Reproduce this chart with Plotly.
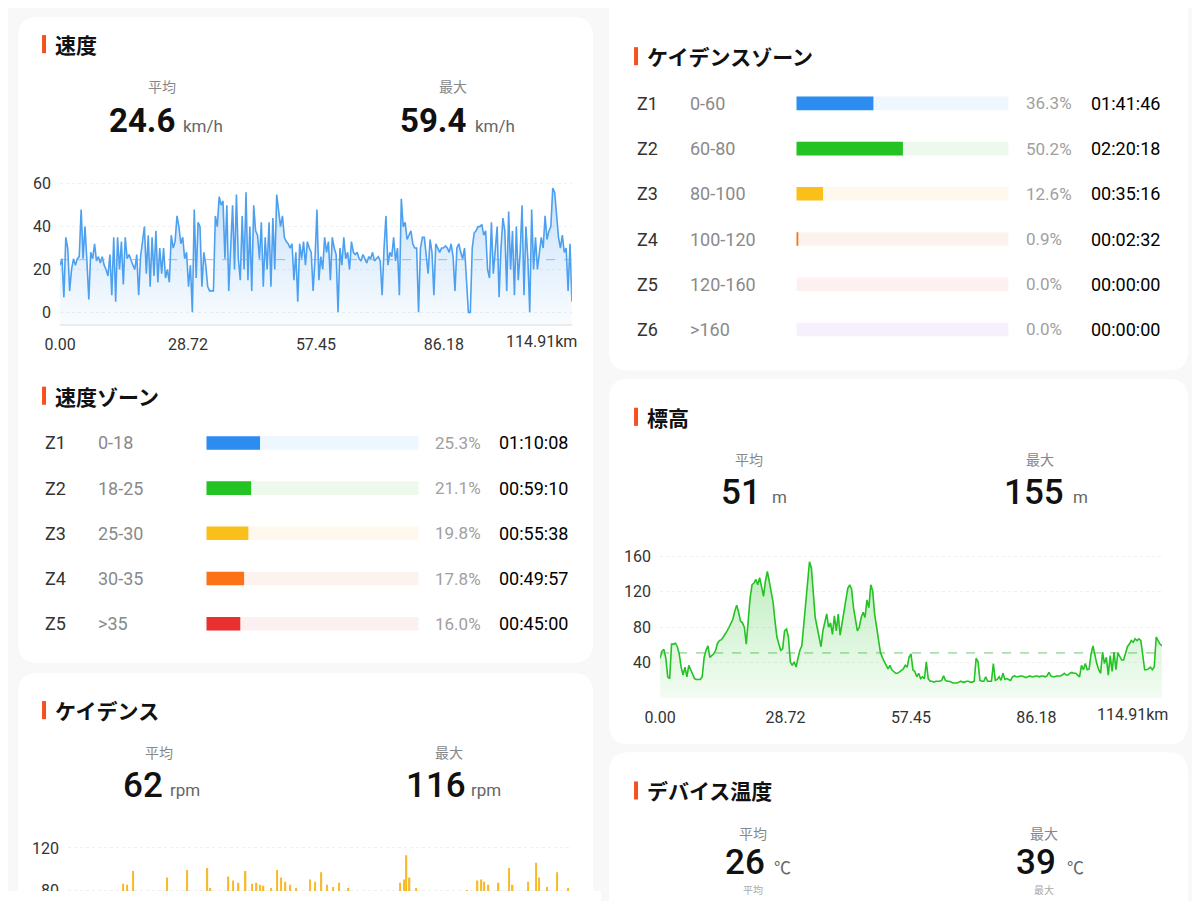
import plotly.graph_objects as go

W, H = 1200, 901

# ---- data ----
TOTAL_KM = 114.91
km_ticks = [0, 28.72, 57.45, 86.18]
km_ticktext = ["0.00", "28.72", "57.45", "86.18"]

SPEED_AVG, SPEED_MAX = 24.6, 59.4
speed_kmh = [
    22, 25, 7, 35, 30, 10, 20, 25, 22, 25,
    26, 48, 25, 40, 24, 6, 28, 25, 32, 24,
    26, 23, 26, 22, 20, 17, 27, 8, 35, 5,
    35, 20, 33, 13, 35, 25, 27, 24, 22, 20,
    27, 8, 26, 33, 40, 18, 36, 12, 35, 17,
    38, 14, 30, 18, 30, 16, 20, 14, 36, 30,
    33, 45, 40, 32, 35, 25, 28, 12, 22, 0,
    48, 16, 42, 40, 12, 28, 22, 12, 10, 10,
    10, 45, 40, 54, 50, 52, 25, 50, 10, 30,
    50, 20, 55, 25, 15, 45, 20, 56, 15, 40,
    10, 50, 38, 36, 25, 42, 12, 35, 20, 42,
    12, 44, 20, 55, 48, 40, 45, 35, 33, 32,
    30, 32, 15, 28, 5, 32, 25, 33, 22, 33,
    30, 28, 10, 25, 48, 15, 26, 20, 35, 28,
    33, 15, 35, 30, 27, 0, 30, 22, 35, 25,
    28, 20, 33, 28, 27, 28, 25, 24, 27, 25,
    23, 26, 25, 28, 24, 25, 26, 24, 8, 30,
    45, 22, 28, 26, 35, 24, 30, 8, 53, 40,
    42, 34, 36, 38, 32, 30, 30, 0, 30, 35,
    35, 25, 18, 34, 28, 8, 32, 30, 28, 30,
    30, 31, 30, 28, 32, 26, 10, 30, 32, 28,
    25, 30, 12, 0, 0, 30, 37, 38, 40, 40,
    41, 36, 38, 20, 16, 42, 18, 30, 40, 7,
    30, 44, 38, 10, 47, 20, 38, 8, 40, 15,
    28, 50, 8, 40, 25, 0, 48, 20, 35, 20,
    28, 35, 30, 45, 34, 38, 40, 58, 56, 45,
    35, 30, 36, 28, 30, 10, 32, 5,
]

speed_zone_names = ["Z1", "Z2", "Z3", "Z4", "Z5"]
speed_zone_ranges = ["0-18", "18-25", "25-30", "30-35", ">35"]
speed_zone_pct = [25.3, 21.1, 19.8, 17.8, 16.0]
speed_zone_time = ["01:10:08", "00:59:10", "00:55:38", "00:49:57", "00:45:00"]

CAD_AVG, CAD_MAX = 62, 116
cadence_km = [12.6, 13.5, 14.8, 22.6, 27.2, 31.8, 32.5, 36.6, 37.7, 38.9,
              40.5, 42.0, 43.0, 43.8, 44.6, 46.3, 47.7, 48.5, 49.6, 50.6,
              52.0, 55.2, 56.3, 57.8, 59.0, 60.5, 61.8, 64.0, 75.8, 76.6,
              77.2, 77.9, 79.3, 91.1, 93.4, 94.3, 94.9, 95.9, 98.2, 100.5,
              101.4, 104.9, 106.7, 107.4, 109.2, 111.5, 114.0]
cadence_rpm = [86, 85, 98, 92, 99, 101, 82, 93, 89, 87,
               98, 86, 87, 85, 84, 82, 99, 92, 88, 85,
               82, 90, 88, 97, 85, 83, 87, 82, 87, 90,
               113, 92, 82, 80, 89, 90, 88, 85, 87, 101,
               85, 88, 106, 92, 83, 97, 82]

cad_zone_names = ["Z1", "Z2", "Z3", "Z4", "Z5", "Z6"]
cad_zone_ranges = ["0-60", "60-80", "80-100", "100-120", "120-160", ">160"]
cad_zone_pct = [36.3, 50.2, 12.6, 0.9, 0.0, 0.0]
cad_zone_time = ["01:41:46", "02:20:18", "00:35:16", "00:02:32", "00:00:00", "00:00:00"]

ELEV_AVG, ELEV_MAX = 51, 155
elevation_m = [
    45, 53, 55, 45, 24, 22, 61, 61, 62, 58,
    50, 35, 26, 35, 24, 37, 32, 26, 22, 21,
    21, 21, 24, 46, 54, 59, 46, 48, 50, 54,
    62, 65, 66, 69, 72, 76, 80, 84, 89, 98,
    105, 97, 87, 85, 80, 61, 91, 113, 128, 130,
    134, 128, 136, 123, 115, 132, 143, 132, 119, 108,
    87, 69, 61, 54, 56, 76, 78, 69, 41, 37,
    41, 35, 45, 54, 59, 84, 106, 136, 154, 147,
    113, 91, 80, 69, 58, 76, 84, 95, 80, 85,
    72, 93, 76, 95, 71, 84, 95, 113, 124, 128,
    123, 102, 87, 76, 80, 91, 97, 91, 111, 102,
    128, 121, 95, 80, 65, 52, 46, 41, 37, 33,
    37, 32, 30, 28, 28, 30, 32, 33, 37, 35,
    46, 50, 32, 30, 24, 28, 22, 24, 22, 41,
    22, 19, 19, 18, 19, 19, 19, 20, 25, 20,
    19, 19, 18, 17, 17, 17, 18, 19, 18, 18,
    19, 19, 18, 18, 19, 45, 41, 20, 19, 19,
    24, 19, 19, 19, 39, 20, 21, 24, 20, 28,
    21, 22, 21, 20, 24, 25, 24, 24, 25, 25,
    24, 23, 24, 25, 24, 24, 25, 25, 24, 25,
    25, 24, 25, 29, 25, 24, 24, 25, 25, 25,
    26, 28, 26, 26, 28, 29, 28, 28, 26, 24,
    37, 32, 39, 32, 33, 50, 59, 48, 39, 32,
    28, 52, 39, 46, 26, 48, 30, 52, 32, 51,
    46, 43, 43, 50, 58, 61, 65, 63, 67, 65,
    67, 65, 46, 32, 32, 33, 35, 32, 35, 69,
    65, 61, 59,
]

TEMP_AVG, TEMP_MAX = 26, 39

zone_colors = ["#2d8cf0", "#22c322", "#fbbf1a", "#fb7316", "#e8312f", "#9b5de5"]
zone_tracks = ["#eef6fe", "#edf9ed", "#fff8ec", "#fdf3ee", "#fdf0f0", "#f5f0fb"]

NUM_FONT = "Roboto, 'Noto Sans CJK JP', sans-serif"
JP_FONT = "'Noto Sans CJK JP', 'Noto Sans', sans-serif"

# the page lands a little shifted/scaled in the snapshot, so map screen px -> figure px
SX, OX = 0.985, 24
SY, OY = 0.99, 14


def fx(x):
    return (x - OX) / SX / W


def fy(y):
    return 1 - (y - OY) / SY / H


speed_km = [i * TOTAL_KM / (len(speed_kmh) - 1) for i in range(len(speed_kmh))]
elev_km = [i * TOTAL_KM / (len(elevation_m) - 1) for i in range(len(elevation_m))]

fig = go.Figure()

# speed chart
SPEED_FLOOR = -5.625
fig.add_trace(go.Scatter(x=speed_km, y=[SPEED_FLOOR] * len(speed_km), mode="lines",
                         line=dict(width=0), hoverinfo="skip", xaxis="x", yaxis="y"))
fig.add_trace(go.Scatter(
    x=speed_km, y=speed_kmh, mode="lines", fill="tonexty",
    line=dict(color="#4da0f0", width=1.6),
    fillgradient=dict(type="vertical", start=SPEED_FLOOR, stop=60,
                      colorscale=[[0, "rgba(77,160,240,0.03)"], [1, "rgba(77,160,240,0.32)"]]),
    hoverinfo="skip", xaxis="x", yaxis="y"))
fig.add_trace(go.Scatter(x=[0, TOTAL_KM], y=[SPEED_AVG, SPEED_AVG], mode="lines",
                         line=dict(color="rgba(120,165,215,0.7)", width=1, dash="dash"),
                         hoverinfo="skip", xaxis="x", yaxis="y"))

# elevation chart
fig.add_trace(go.Scatter(
    x=elev_km, y=elevation_m, mode="lines", fill="tozeroy",
    line=dict(color="#22c322", width=1.6),
    fillgradient=dict(type="vertical", start=0, stop=155,
                      colorscale=[[0, "rgba(34,195,34,0.05)"], [1, "rgba(34,195,34,0.30)"]]),
    hoverinfo="skip", xaxis="x5", yaxis="y5"))
fig.add_trace(go.Scatter(x=[0, TOTAL_KM], y=[ELEV_AVG, ELEV_AVG], mode="lines",
                         line=dict(color="rgba(60,180,60,0.75)", width=1, dash="dash"),
                         hoverinfo="skip", xaxis="x5", yaxis="y5"))

# cadence chart
fig.add_trace(go.Bar(x=cadence_km, y=cadence_rpm, width=0.3, marker=dict(color="#f7b928", line=dict(width=0)),
                     hoverinfo="skip", xaxis="x3", yaxis="y3"))

# zone bars
fig.add_trace(go.Bar(x=[100] * len(speed_zone_names), y=speed_zone_names, orientation="h", width=0.3,
                     marker=dict(color=zone_tracks[:5], line=dict(width=0)), hoverinfo="skip",
                     xaxis="x2", yaxis="y2"))
fig.add_trace(go.Bar(x=speed_zone_pct, y=speed_zone_names, orientation="h", width=0.3,
                     marker=dict(color=zone_colors[:5], line=dict(width=0)), hoverinfo="skip",
                     xaxis="x2", yaxis="y2"))
fig.add_trace(go.Bar(x=[100] * len(cad_zone_names), y=cad_zone_names, orientation="h", width=0.3,
                     marker=dict(color=zone_tracks, line=dict(width=0)), hoverinfo="skip",
                     xaxis="x4", yaxis="y4"))
fig.add_trace(go.Bar(x=cad_zone_pct, y=cad_zone_names, orientation="h", width=0.3,
                     marker=dict(color=zone_colors, line=dict(width=0)), hoverinfo="skip",
                     xaxis="x4", yaxis="y4"))

tickfont = dict(family=NUM_FONT, size=16, color="#333")
hidden = dict(visible=False, fixedrange=True)


# cards
def card(x0, y0, x1, y1, r=20):
    p = [
        f"M {fx(x0 + r)},{fy(y0)}", f"L {fx(x1 - r)},{fy(y0)}", f"Q {fx(x1)},{fy(y0)} {fx(x1)},{fy(y0 + r)}",
        f"L {fx(x1)},{fy(y1 - r)}", f"Q {fx(x1)},{fy(y1)} {fx(x1 - r)},{fy(y1)}",
        f"L {fx(x0 + r)},{fy(y1)}", f"Q {fx(x0)},{fy(y1)} {fx(x0)},{fy(y1 - r)}",
        f"L {fx(x0)},{fy(y0 + r)}", f"Q {fx(x0)},{fy(y0)} {fx(x0 + r)},{fy(y0)}", "Z",
    ]
    return dict(type="path", path=" ".join(p), xref="paper", yref="paper",
                fillcolor="white", line=dict(width=0), layer="below")


shapes = [
    card(18, 18, 592, 661),
    card(18, 671, 592, 940),
    card(608, -40, 1186, 370),
    card(608, 378, 1186, 742),
    card(608, 750, 1186, 960),
]

annotations = []


def text(x, y, s, size, color="#222", anchor="left", family=NUM_FONT, weight="normal"):
    annotations.append(dict(x=fx(x), y=fy(y), xref="paper", yref="paper", text=s, showarrow=False,
                            xanchor=anchor, yanchor="middle",
                            font=dict(size=size, color=color, family=family, weight=weight)))


def header(x, y, s):
    shapes.append(dict(type="rect", xref="paper", yref="paper", x0=fx(x), x1=fx(x + 4),
                       y0=fy(y + 9), y1=fy(y - 9), fillcolor="#f4511e", line=dict(width=0), layer="below"))
    text(x + 11, y, s, 21, "#111", family=JP_FONT, weight="bold")


def stats(xl, xr, y_lab, y_num, num_l, unit_l, num_r, unit_r, nums, unit, num_size, num_weight):
    text(xl, y_lab, "平均", 14, "#888", anchor="center", family=JP_FONT)
    text(xr, y_lab, "最大", 14, "#888", anchor="center", family=JP_FONT)
    text(num_l, y_num, str(nums[0]), num_size, "#111", weight=num_weight)
    text(num_r, y_num, str(nums[1]), num_size, "#111", weight=num_weight)
    text(unit_l, y_num + 5, unit, 17, "#666")
    text(unit_r, y_num + 5, unit, 17, "#666")


header(42, 45, "速度")
stats(162, 452, 87, 121, 107, 181, 397, 472, (SPEED_AVG, SPEED_MAX), "km/h", 33, "bold")

header(42, 395, "速度ゾーン")
header(42, 708, "ケイデンス")
stats(159, 448, 750, 783, 121, 168, 403, 468, (CAD_AVG, CAD_MAX), "rpm", 35, 500)

header(633, 57, "ケイデンスゾーン")
header(633, 416, "標高")
stats(748, 1038, 458, 491, 718, 769, 1000, 1069, (ELEV_AVG, ELEV_MAX), "m", 35, 500)
header(633, 788, "デバイス温度")
stats(752, 1042, 830, 860, 722, 771, 1012, 1063, (TEMP_AVG, TEMP_MAX), "℃", 35, 500)
text(752, 887, "平均", 10, "#aaa", anchor="center", family=JP_FONT)
text(1042, 887, "最大", 10, "#aaa", anchor="center", family=JP_FONT)

# km end labels
text(578, 341, f"{TOTAL_KM:.2f}km", 16, "#333", anchor="right")
text(1168, 712, f"{TOTAL_KM:.2f}km", 16, "#333", anchor="right")

# zone rows
for names, ranges, pct, times, yref, xs in [
    (speed_zone_names, speed_zone_ranges, speed_zone_pct, speed_zone_time, "y2", (43, 96, 432, 496)),
    (cad_zone_names, cad_zone_ranges, cad_zone_pct, cad_zone_time, "y4", (634, 687, 1022, 1087)),
]:
    for n, r, p, t in zip(names, ranges, pct, times):
        for x, s, size, col in [(xs[0], n, 18, "#333"), (xs[1], r, 18, "#8a8a8a"),
                                (xs[2], f"{p:.1f}%", 17, "#a0a0a0"), (xs[3], t, 18, "#000")]:
            annotations.append(dict(x=fx(x), y=n, xref="paper", yref=yref, text=s, showarrow=False,
                                    xanchor="left", yanchor="middle",
                                    font=dict(size=size, color=col, family=NUM_FONT)))

# clip the bottom of the left screenshot
shapes.append(dict(type="rect", xref="paper", yref="paper", x0=-0.05, x1=fx(600), y0=-0.05, y1=fy(888),
                   fillcolor="white", line=dict(width=0), layer="above"))

fig.update_layout(
    width=W, height=H, margin=dict(l=0, r=0, t=0, b=0),
    paper_bgcolor="#f8f8f8", plot_bgcolor="rgba(0,0,0,0)",
    showlegend=False, barmode="overlay", hovermode=False,
    shapes=shapes, annotations=annotations,
    xaxis=dict(domain=[fx(60), fx(571)], range=[0, TOTAL_KM], tickvals=km_ticks, ticktext=km_ticktext,
               showgrid=False, zeroline=False, showline=True, linecolor="#ebebeb", linewidth=2,
               ticks="", tickfont=tickfont, ticklabelstandoff=4, anchor="y", fixedrange=True),
    yaxis=dict(domain=[fy(324), fy(180)], range=[SPEED_FLOOR, 61.875], tickvals=[0, 20, 40, 60],
               showgrid=True, gridcolor="#f0f0f0", griddash="dot", zeroline=False, ticks="",
               tickfont=tickfont, ticklabelstandoff=8, anchor="x", fixedrange=True),
    xaxis2=dict(domain=[fx(206), fx(418)], range=[0, 100], anchor="y2", **hidden),
    yaxis2=dict(domain=[fy(644.5), fy(419.5)], type="category", range=[4.5, -0.5], anchor="x2", **hidden),
    xaxis3=dict(domain=[fx(68), fx(571)], range=[0, TOTAL_KM], showticklabels=False, showgrid=False,
                zeroline=False, anchor="y3", fixedrange=True),
    yaxis3=dict(domain=[0, fy(840)], range=[62, 125], tickvals=[80, 120], showgrid=True,
                gridcolor="#f0f0f0", griddash="dot", zeroline=False, ticks="", tickfont=tickfont,
                ticklabelstandoff=8, anchor="x3", fixedrange=True),
    xaxis4=dict(domain=[fx(795), fx(1007)], range=[0, 100], anchor="y4", **hidden),
    yaxis4=dict(domain=[fy(351.5), fy(81.5)], type="category", range=[5.5, -0.5], anchor="x4", **hidden),
    xaxis5=dict(domain=[fx(659), fx(1160)], range=[0, TOTAL_KM], tickvals=km_ticks, ticktext=km_ticktext,
                showgrid=False, zeroline=False, showline=False, ticks="", tickfont=tickfont,
                ticklabelstandoff=8, anchor="y5", fixedrange=True),
    yaxis5=dict(domain=[fy(696), fy(550)], range=[0, 165.7], tickvals=[40, 80, 120, 160],
                showgrid=True, gridcolor="#f0f0f0", griddash="dot", zeroline=False, ticks="",
                tickfont=tickfont, ticklabelstandoff=8, anchor="x5", fixedrange=True),
)

fig.write_html("out.html")
